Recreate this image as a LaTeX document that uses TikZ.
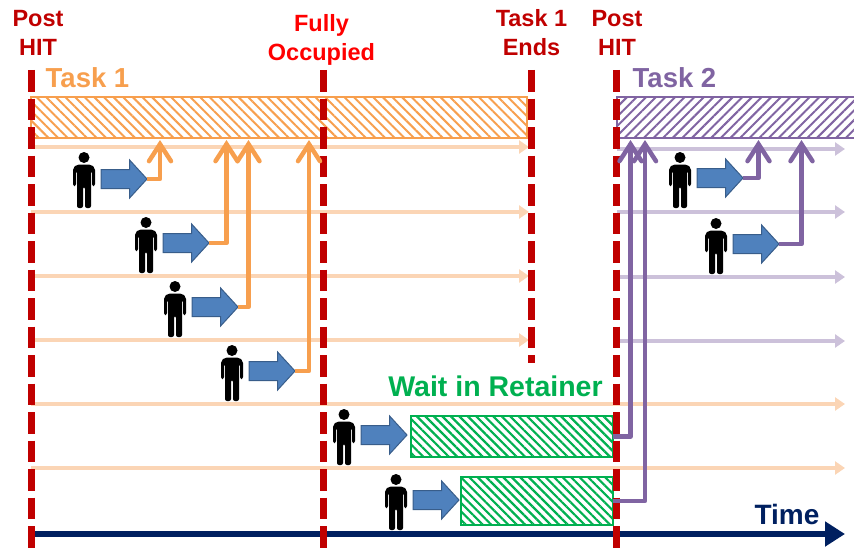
\documentclass[tikz,border=0pt]{standalone}
\usepackage{fontspec}
\setmainfont{Liberation Sans}
\usepackage{xcolor}
\usepackage{tikz}
\usetikzlibrary{arrows.meta,patterns.meta,shapes.arrows}
\definecolor{darkred}{HTML}{C00000}
\definecolor{taskorange}{HTML}{F79F4E}
\definecolor{lightorange}{HTML}{FBD5B5}
\definecolor{taskpurple}{HTML}{8064A2}
\definecolor{lightpurple}{HTML}{CCC1DA}
\definecolor{waitgreen}{HTML}{00B050}
\definecolor{timeblue}{HTML}{002060}
\definecolor{arrowblue}{HTML}{4F81BD}
\definecolor{arrowedge}{HTML}{385D8A}
\tikzset{
	event/.style={text=darkred,font=\bfseries\fontsize{23.5}{29}\selectfont,align=center},
	tasklabel/.style={font=\bfseries\fontsize{27.5}{30}\selectfont},
	marker/.style={darkred,line width=7pt,dash pattern=on 21.5pt off 7pt},
	blockarrow/.style={single arrow,draw=arrowedge,line width=1pt,fill=arrowblue,inner xsep=0pt,inner ysep=9pt,outer sep=0pt,
		minimum height=46pt,minimum width=37pt,single arrow head extend=9.5pt,single arrow tip angle=95,anchor=west},
	hatchbar/.style={draw=#1,line width=2.5pt,inner sep=0pt,outer sep=0pt,anchor=west,minimum height=41pt},
	fromhit/.style={line width=3.5pt,draw=#1,-{Triangle[length=10pt,width=13pt]}},
	pickup/.style={line width=4.5pt,draw=#1,line join=round,-{Straight Barb[length=17pt,width=22pt,line width=4.5pt,line cap=round]}},
	pics/worker/.style={code={
		\fill (0,5.5) circle (5.5);
		\fill[rounded corners=2pt] (-11,34) -- (-11,16) -- (-7,12.5) -- (7,12.5) -- (11,16) -- (11,34)
			-- (8,34) -- (8,19) -- (7,19) -- (7,56) -- (1,56) -- (1,35) -- (-1,35) -- (-1,56) -- (-7,56)
			-- (-7,19) -- (-8,19) -- (-8,34) -- cycle;
	}},
}
\begin{document}
\begin{tikzpicture}[x=1pt,y=-1pt]
	\useasboundingbox (0,0) rectangle (854,551);
	% task bars and retainer boxes
	\node[hatchbar=taskorange,minimum width=496pt,pattern={Lines[angle=-45,distance=6.8pt,line width=2pt]},pattern color=taskorange] (bar1) at (31,117.5) {};
	\node[hatchbar=taskpurple,minimum width=245pt,pattern={Lines[angle=45,distance=6.8pt,line width=2pt]},pattern color=taskpurple] (bar2) at (617,117.5) {};
	\node[hatchbar=waitgreen,minimum width=202pt,pattern={Lines[angle=-45,distance=6pt,line width=2.2pt]},pattern color=waitgreen] (wait1) at (411,436.5) {};
	\node[hatchbar=waitgreen,minimum width=152pt,minimum height=48pt,pattern={Lines[angle=-45,distance=6pt,line width=2.2pt]},pattern color=waitgreen] (wait2) at (461,501) {};
	% worker lifetimes
	\foreach \Ligne in {147,212,276,340}
		\draw[fromhit=lightorange] (31,\Ligne) -- (529,\Ligne);
	\foreach \Ligne in {404,468}
		\draw[fromhit=lightorange] (31,\Ligne) -- (845,\Ligne);
	\foreach \Ligne in {149,212,277,341}
		\draw[fromhit=lightpurple] (617,\Ligne) -- (845,\Ligne);
	% time axis
	\coordinate (t0) at (31,534);
	\coordinate (t1) at (845,534);
	\draw[timeblue,line width=6pt,-{Triangle[length=20pt,width=24pt]}] (t0) -- (t1);
	\node[text=timeblue,font=\bfseries\fontsize{28}{30}\selectfont] (timelabel) at (787,514) {Time};
	% events
	\draw[marker] (31,70) -- (31,549);
	\draw[marker] (323.5,70) -- (323.5,549);
	\draw[marker] (531,70) -- (531,363);
	\draw[marker] (616.5,70) -- (616.5,549);
	\node[event] (post1) at (38,33) {Post\\HIT};
	\node[event,text=red] (full) at (321.5,39.5) {Fully\\Occupied};
	\node[event] (ends) at (531.5,33) {Task 1\\Ends};
	\node[event] (post2) at (617,33) {Post\\HIT};
	\node[tasklabel,text=taskorange] (task1) at (87.5,78) {Task 1};
	\node[tasklabel,text=taskpurple] (task2) at (674.5,78) {Task 2};
	\node[text=waitgreen,font=\bfseries\fontsize{28.5}{30}\selectfont] (waitlabel) at (495.5,386) {Wait in Retainer};
	% workers
	\foreach \Nombre/\Wx/\Wy/\Ax/\Ay in {1/84/152/101/179,2/146/217/163/243,3/175/281/192/307,4/232/345/249/371,
		5/344/409/361/435,6/396/474/413/500,7/680/152/697/178,8/716/218/733/244}{
		\pic at (\Wx,\Wy) {worker};
		\node[blockarrow] (arrow\Nombre) at (\Ax,\Ay) {};
	}
	% where each worker picks up
	\coordinate (pick1) at (160,140);
	\coordinate (pick2) at (226.5,140);
	\coordinate (pick3) at (248.5,140);
	\coordinate (pick4) at (309,140);
	\coordinate (pick5) at (630.5,140);
	\coordinate (pick6) at (645,140);
	\coordinate (pick7) at (758.5,140);
	\coordinate (pick8) at (801.5,140);
	\foreach \Nombre in {1,2,3,4}
		\draw[pickup=taskorange] (arrow\Nombre.tip) -| (pick\Nombre);
	\draw[pickup=taskpurple] (wait1.east) -| (pick5);
	\draw[pickup=taskpurple] (wait2.east) -| (pick6);
	\foreach \Nombre in {7,8}
		\draw[pickup=taskpurple] (arrow\Nombre.tip) -| (pick\Nombre);
\end{tikzpicture}
\end{document}
